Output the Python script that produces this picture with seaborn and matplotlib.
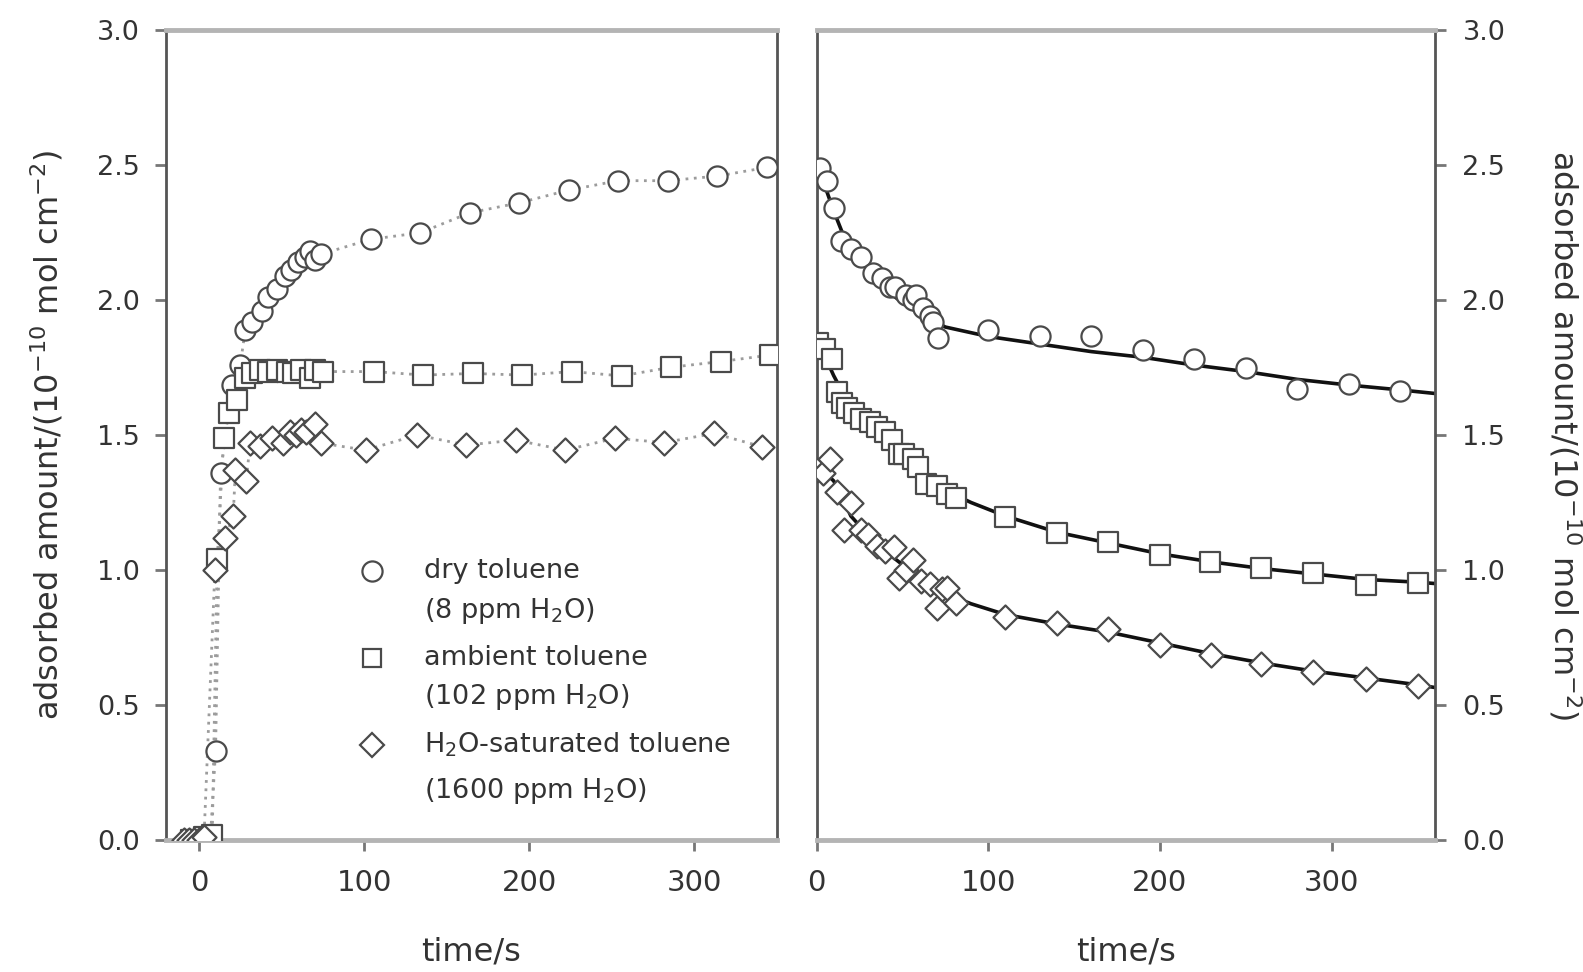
import numpy as np
import pandas as pd
import matplotlib
matplotlib.use("Agg")
import matplotlib.pyplot as plt
import seaborn as sns

# ---------------- data ----------------
# left panel: adsorption (time/s, amount 1e-10 mol cm-2)
dry_t_left = [-6, -2, 2, 7, 10, 13, 20, 25, 28, 32, 38, 42, 47, 52, 56, 60, 64, 67, 70, 74,
              104, 134, 164, 194, 224, 254, 284, 314, 344]
dry_y_left = [0.0, 0.0, 0.01, 0.02, 0.33, 1.36, 1.685, 1.76, 1.89, 1.92, 1.96, 2.01, 2.04, 2.09,
              2.11, 2.14, 2.16, 2.18, 2.15, 2.17,
              2.225, 2.249, 2.323, 2.36, 2.407, 2.442, 2.442, 2.459, 2.491]

amb_t_left = [-5, -1, 3, 8, 11, 15, 18, 23, 28, 32, 37, 42, 47, 53, 57, 62, 67, 70, 75,
              106, 136, 166, 196, 226, 256, 286, 316, 346]
amb_y_left = [0.0, 0.0, 0.01, 0.02, 1.04, 1.49, 1.58, 1.63, 1.71, 1.73, 1.74, 1.735, 1.74, 1.735,
              1.73, 1.74, 1.71, 1.74, 1.735,
              1.735, 1.722, 1.728, 1.722, 1.735, 1.719, 1.751, 1.772, 1.796]

sat_t_left = [-9, -6, -3, 0, 3, 9.6, 15.8, 20.7, 22, 28.5, 31, 37, 44, 51, 55, 59, 62, 65, 70, 74,
              101, 132, 162, 192, 222, 252, 282, 312, 341]
sat_y_left = [0.0, 0.0, 0.0, 0.0, 0.01, 1.0, 1.12, 1.20, 1.37, 1.33, 1.47, 1.46, 1.49, 1.47, 1.51,
              1.50, 1.52, 1.51, 1.54, 1.47,
              1.444, 1.50, 1.463, 1.481, 1.444, 1.488, 1.472, 1.506, 1.457]

# right panel: desorption
dry_t_right = [2, 6, 10, 14, 20, 26, 33, 38, 43, 46, 52, 56, 58, 62, 66, 68, 71,
               100, 130, 160, 190, 220, 250, 280, 310, 340]
dry_y_right = [2.49, 2.44, 2.34, 2.22, 2.19, 2.16, 2.10, 2.08, 2.05, 2.05, 2.02, 2.00, 2.02,
               1.97, 1.94, 1.92, 1.86,
               1.89, 1.867, 1.867, 1.815, 1.78, 1.75, 1.67, 1.69, 1.664]

amb_t_right = [1, 5, 9, 12, 15, 18, 22, 26, 31, 35, 40, 44, 48, 51, 56, 59, 64, 70, 76, 81,
               110, 140, 170, 200, 229, 259, 289, 320, 350]
amb_y_right = [1.84, 1.82, 1.78, 1.66, 1.62, 1.60, 1.58, 1.56, 1.55, 1.53, 1.51, 1.48, 1.43,
               1.43, 1.41, 1.38, 1.32, 1.31, 1.28, 1.265,
               1.198, 1.136, 1.105, 1.056, 1.031, 1.006, 0.988, 0.944, 0.951]

sat_t_right = [0, 4, 8, 12, 16, 20, 26, 30, 35, 40, 45, 48, 52, 56, 61, 66, 70, 73, 76, 81,
               110, 140, 170, 200, 230, 259, 289, 320, 350]
sat_y_right = [1.37, 1.36, 1.41, 1.29, 1.15, 1.25, 1.15, 1.13, 1.09, 1.07, 1.086, 0.97, 1.00,
               1.037, 0.96, 0.95, 0.858, 0.93, 0.932, 0.876,
               0.827, 0.805, 0.783, 0.722, 0.685, 0.651, 0.623, 0.595, 0.570]

# fitted curves
dry_fit_t = [0, 5, 10, 15, 20, 30, 40, 50, 60, 75, 100, 130, 160, 190, 220, 250, 280, 310, 340, 360]
dry_fit_y = [2.49, 2.42, 2.33, 2.25, 2.19, 2.11, 2.04, 1.99, 1.95, 1.90, 1.865, 1.837, 1.809,
             1.788, 1.759, 1.735, 1.706, 1.685, 1.667, 1.654]
amb_fit_t = [0, 5, 10, 20, 30, 40, 50, 60, 70, 80, 90, 110, 140, 170, 200, 230, 260, 290, 320, 350, 360]
amb_fit_y = [1.84, 1.79, 1.72, 1.60, 1.55, 1.50, 1.44, 1.38, 1.32, 1.28, 1.25, 1.20, 1.14, 1.10,
             1.06, 1.03, 1.005, 0.985, 0.965, 0.955, 0.95]
sat_fit_t = [0, 5, 10, 15, 20, 30, 40, 50, 60, 70, 80, 90, 110, 140, 170, 200, 230, 260, 290, 320, 350, 360]
sat_fit_y = [1.39, 1.36, 1.33, 1.27, 1.20, 1.13, 1.07, 1.02, 0.97, 0.93, 0.90, 0.875, 0.835, 0.80,
             0.77, 0.73, 0.69, 0.655, 0.625, 0.60, 0.575, 0.565]

label_line1 = ["dry toluene", "ambient toluene", "H$_2$O-saturated toluene"]
label_line2 = ["(8 ppm H$_2$O)", "(102 ppm H$_2$O)", "(1600 ppm H$_2$O)"]
y_ticks = [0.0, 0.5, 1.0, 1.5, 2.0, 2.5, 3.0]
x_ticks = [0, 100, 200, 300]
ylabel = "adsorbed amount/(10$^{-10}$ mol cm$^{-2}$)"
xlabel = "time/s"

# ---------------- style ----------------
sns.set_theme(style="ticks")
plt.rcParams["font.family"] = ["DejaVu Sans"]
plt.rcParams["mathtext.fontset"] = "dejavusans"

TXT = "#333333"
EDGE = "#4a4a4a"
SPINE_DARK = "#555555"
SPINE_LIGHT = "#b4b4b4"

fig = plt.figure(figsize=(15.83, 9.72), dpi=100)
axL = fig.add_axes([0.1049, 0.1358, 0.3857, 0.8333])
axR = fig.add_axes([0.5158, 0.1358, 0.3905, 0.8333])

markers = ["o", "s", "D"]
sizes = [210, 190, 150]
leg_ms = [14.5, 13.5, 12]

left_sets = [(dry_t_left, dry_y_left), (amb_t_left, amb_y_left), (sat_t_left, sat_y_left)]
right_sets = [(dry_t_right, dry_y_right), (amb_t_right, amb_y_right), (sat_t_right, sat_y_right)]
fit_sets = [(dry_fit_t, dry_fit_y), (amb_fit_t, amb_fit_y), (sat_fit_t, sat_fit_y)]

for (t, y), m, s in zip(left_sets, markers, sizes):
    sns.lineplot(x=t, y=y, ax=axL, color="#9c9c9c", linestyle=(0, (1, 2)), linewidth=2,
                 estimator=None, sort=False, zorder=2)
    sns.scatterplot(x=t, y=y, ax=axL, marker=m, s=s, facecolor="white", edgecolor=EDGE,
                    linewidth=1.6, zorder=3)

for (ft, fy) in fit_sets:
    sns.lineplot(x=ft, y=fy, ax=axR, color="#111111", linewidth=2.6, estimator=None,
                 sort=False, zorder=2)
for (t, y), m, s in zip(right_sets, markers, sizes):
    sns.scatterplot(x=t, y=y, ax=axR, marker=m, s=s, facecolor="white", edgecolor=EDGE,
                    linewidth=1.6, zorder=3)

# ---------------- axes cosmetics ----------------
axL.set_xlim(-20, 350)
axR.set_xlim(0, 360)
for ax in (axL, axR):
    ax.set_ylim(0, 3.0)
    ax.set_xticks(x_ticks)
    ax.set_yticks(y_ticks)
    ax.set_xlabel(xlabel, fontsize=23, color=TXT, labelpad=28)
    ax.tick_params(axis="x", labelsize=21, colors="#777777", labelcolor=TXT,
                   length=8, width=2, pad=13, direction="out")
    ax.spines["top"].set_color(SPINE_LIGHT)
    ax.spines["top"].set_linewidth(3.5)
    ax.spines["bottom"].set_color(SPINE_LIGHT)
    ax.spines["bottom"].set_linewidth(3.5)
    ax.spines["left"].set_color(SPINE_DARK)
    ax.spines["left"].set_linewidth(2)
    ax.spines["right"].set_color(SPINE_DARK)
    ax.spines["right"].set_linewidth(2)

axL.yaxis.tick_left()
axL.tick_params(axis="y", labelsize=19.5, colors="#777777", labelcolor=TXT,
                length=8, width=2, pad=11, direction="out")
axL.yaxis.set_major_formatter(matplotlib.ticker.FormatStrFormatter("%.1f"))
axL.set_ylabel(ylabel, fontsize=23, color=TXT)
axL.yaxis.set_label_coords(-0.165, 0.5)

axR.yaxis.tick_right()
axR.yaxis.set_label_position("right")
axR.tick_params(axis="y", labelsize=19.5, colors="#777777", labelcolor=TXT,
                length=8, width=2, pad=12, direction="out", left=False, right=True,
                labelleft=False, labelright=True)
axR.yaxis.set_major_formatter(matplotlib.ticker.FormatStrFormatter("%.1f"))
axR.set_ylabel(ylabel, fontsize=23, color=TXT, rotation=270, va="center")
axR.yaxis.set_label_coords(1.21, 0.5)

# legend, built in axes coordinates
leg_marker_x = 0.3366
leg_text_x = 0.4226
leg_row1_y = [0.3315, 0.2247, 0.1173]
leg_row2_y = [0.2827, 0.1765, 0.0611]
for m, ms, l1, l2, y1, y2 in zip(markers, leg_ms, label_line1, label_line2, leg_row1_y, leg_row2_y):
    axL.plot([leg_marker_x], [y1], transform=axL.transAxes, linestyle="none", marker=m,
             markersize=ms, markerfacecolor="white", markeredgecolor=EDGE,
             markeredgewidth=1.6, zorder=4)
    axL.text(leg_text_x, y1, l1, transform=axL.transAxes, fontsize=19.5, color=TXT,
             ha="left", va="center")
    axL.text(leg_text_x, y2, l2, transform=axL.transAxes, fontsize=19.5, color=TXT,
             ha="left", va="center")

fig.savefig("out.png", dpi=100)
